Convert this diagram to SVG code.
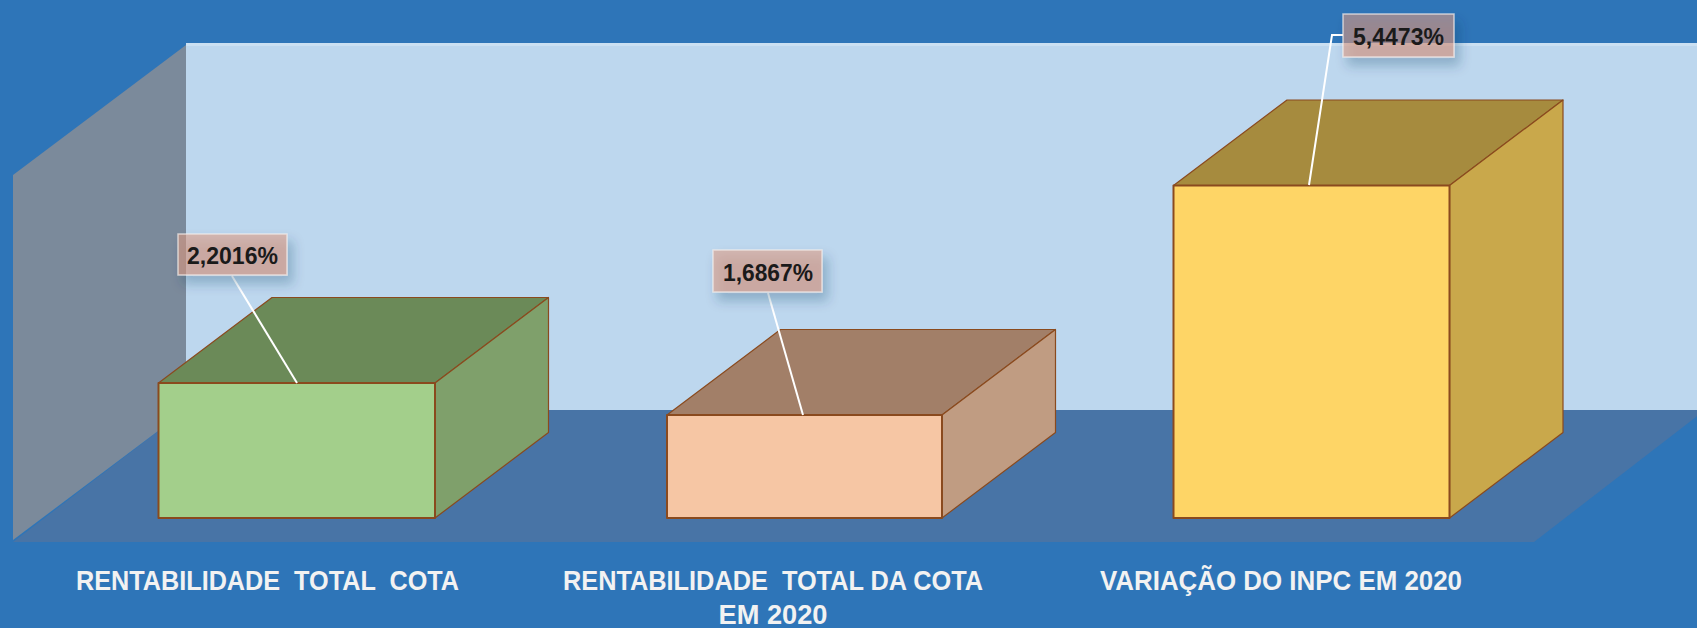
<svg xmlns="http://www.w3.org/2000/svg" width="1697" height="628" viewBox="0 0 1697 628">
  <defs>
    <style>
      .face { stroke: #8A4A1E; stroke-width: 2; stroke-linejoin: round; }
      .back { stroke: #8A4A1E; stroke-width: 1.2; stroke-linejoin: round; }
      .lbl { fill: #E19B80; fill-opacity: 0.55; stroke: #F4ECEA; stroke-opacity: 0.7; stroke-width: 1.5; }
      .val { font-family: "Liberation Sans", Arial, sans-serif; font-weight: bold; font-size: 24px; fill: #1A1A1A; text-anchor: middle; }
      .cat { font-family: "Liberation Sans", Arial, sans-serif; font-weight: bold; font-size: 28px; fill: #F2F2F2; text-anchor: middle; }
      .leader { fill: none; stroke: #FFFFFF; stroke-width: 2; }
    </style>
    <filter id="shadow" x="-30%" y="-40%" width="170%" height="200%">
      <feDropShadow dx="5" dy="8" stdDeviation="6" flood-color="#1E3A5F" flood-opacity="0.45"/>
    </filter>
  </defs>

  <!-- background -->
  <rect x="0" y="0" width="1697" height="628" fill="#2E75B8"/>

  <g id="chart-area">
    <!-- back wall -->
    <rect x="186" y="43" width="1511" height="367" fill="#BDD7EE"/>
    <rect x="186" y="43" width="1511" height="3" fill="#CBE0F2"/>
    <!-- floor -->
    <polygon points="186,410 1705,410 1534,542 13,542" fill="#4874A6"/>
    <!-- side wall -->
    <polygon points="13,175 186,45 186,410 13,540" fill="#7B8A9B"/>
  </g>

  <g id="bar-rentabilidade-total-cota">
    <polygon class="back" points="158.5,383 435,383 548.5,297.5 272,297.5" fill="#6B8A58"/>
    <polygon class="back" points="435,383 548.5,297.5 548.5,432.5 435,518" fill="#7FA06B"/>
    <rect class="face" x="158.5" y="383" width="276.5" height="135" fill="#A3CF8B"/>
  </g>

  <g id="bar-rentabilidade-total-da-cota-2020">
    <polygon class="back" points="667,415 942,415 1055.5,329.5 780.5,329.5" fill="#A27F68"/>
    <polygon class="back" points="942,415 1055.5,329.5 1055.5,432.5 942,518" fill="#C09C82"/>
    <rect class="face" x="667" y="415" width="275" height="103" fill="#F6C6A4"/>
  </g>

  <g id="bar-variacao-inpc-2020">
    <polygon class="back" points="1173.5,185.5 1449.5,185.5 1563,100 1287,100" fill="#A68B3E"/>
    <polygon class="back" points="1449.5,185.5 1563,100 1563,432.5 1449.5,518" fill="#C9A84B"/>
    <rect class="face" x="1173.5" y="185.5" width="276" height="332.5" fill="#FED566"/>
  </g>

  <g id="connectors">
    <line class="leader" x1="232" y1="276" x2="297" y2="383"/>
    <line class="leader" x1="768" y1="293" x2="803" y2="415"/>
    <polyline class="leader" points="1343,35 1332,35 1309,185"/>
  </g>

  <g id="label-2-2016">
    <rect class="lbl" x="178" y="234" width="109" height="41" filter="url(#shadow)"/>
    <text class="val" x="232.5" y="264" textLength="91" lengthAdjust="spacingAndGlyphs">2,2016%</text>
  </g>

  <g id="label-1-6867">
    <rect class="lbl" x="713" y="250" width="109" height="42" filter="url(#shadow)"/>
    <text class="val" x="768" y="280.5" textLength="90" lengthAdjust="spacingAndGlyphs">1,6867%</text>
  </g>

  <g id="label-5-4473">
    <rect class="lbl" x="1343" y="14" width="111" height="43" filter="url(#shadow)"/>
    <text class="val" x="1398.5" y="45" textLength="91" lengthAdjust="spacingAndGlyphs">5,4473%</text>
  </g>

  <g id="axis-labels">
    <text class="cat" x="267.5" y="590" xml:space="preserve" textLength="383" lengthAdjust="spacingAndGlyphs">RENTABILIDADE  TOTAL  COTA</text>
    <text class="cat" x="773" y="590" xml:space="preserve" textLength="420" lengthAdjust="spacingAndGlyphs">RENTABILIDADE  TOTAL DA COTA</text>
    <text class="cat" x="773" y="624" textLength="109" lengthAdjust="spacingAndGlyphs">EM 2020</text>
    <text class="cat" x="1281" y="590" textLength="362" lengthAdjust="spacingAndGlyphs">VARIAÇÃO DO INPC EM 2020</text>
  </g>
</svg>
